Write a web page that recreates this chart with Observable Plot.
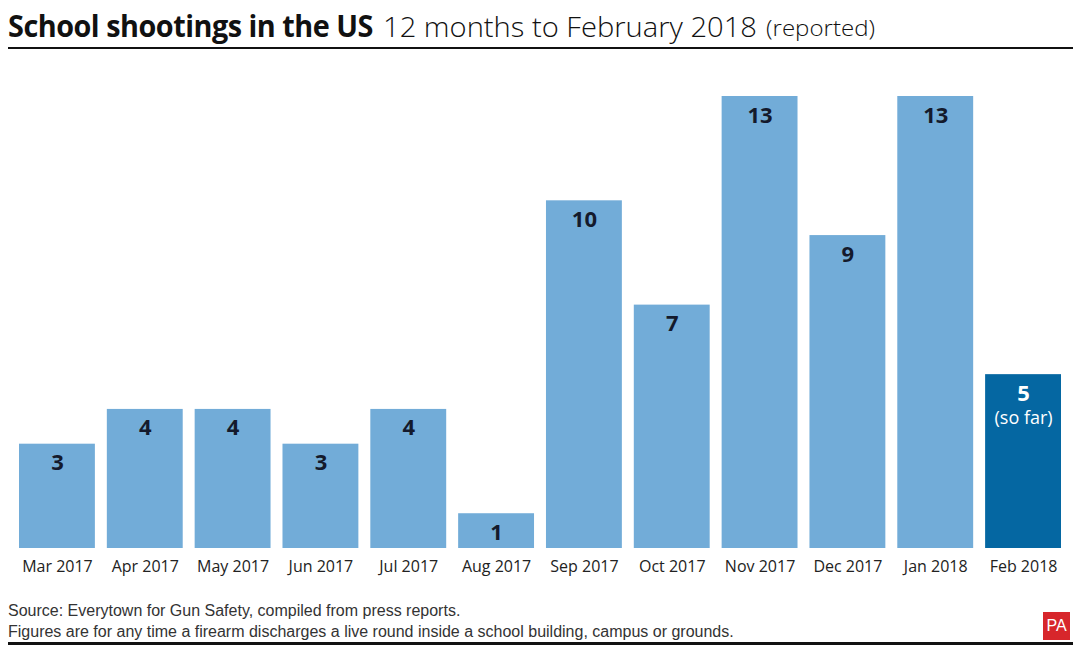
<!DOCTYPE html>
<html>
<head>
<meta charset="utf-8">
<script src="https://cdn.jsdelivr.net/npm/d3@7"></script>
<script src="https://cdn.jsdelivr.net/npm/@observablehq/plot@0.6"></script>
<style>
  html, body { margin: 0; padding: 0; background: #fff; }
  #wrap { position: relative; width: 1080px; height: 648px; overflow: hidden; font-family: "Open Sans", sans-serif; }
  .t { position: absolute; top: 4px; white-space: nowrap; color: #111; line-height: 44px; transform-origin: 0 50%; }
  #tb { left: 8px; font-family: "Open Sans", sans-serif; font-weight: bold; font-size: 30px; letter-spacing: -0.5px; }
  #tm { left: 383px; font-family: "Open Sans", sans-serif; font-weight: 300; font-size: 28px; }
  #ts { left: 766px; top: 5px; font-family: "Open Sans", sans-serif; font-weight: 300; font-size: 22px; }
  #rule1 { position: absolute; left: 8px; width: 1065px; top: 47px; height: 2px; background: #111; }
  #chart { position: absolute; left: 0; top: 50px; }
  #foot { position: absolute; left: 8px; top: 600px; font-family: "Liberation Sans Narrow", sans-serif; font-size: 16px; line-height: 21px; color: #333; }
  #rule2 { position: absolute; left: 8px; width: 1065px; top: 642px; height: 3px; background: #111; }
  #pa { position: absolute; left: 1043px; top: 612px; width: 27px; height: 28px; background: #d7262b; color: #fff; font-family: "Liberation Sans Narrow", sans-serif; font-size: 16px; text-align: center; line-height: 28px; }
</style>
</head>
<body>
<div id="wrap">
  <div id="tb" class="t">School shootings in the US</div>
  <div id="tm" class="t">12 months to February 2018</div>
  <div id="ts" class="t">(reported)</div>
  <div id="rule1"></div>
  <div id="chart"></div>
  <div id="foot">Source: Everytown for Gun Safety, compiled from press reports.<br>Figures are for any time a firearm discharges a live round inside a school building, campus or grounds.</div>
  <div id="pa">PA</div>
  <div id="rule2"></div>
</div>
<script>
const months = ["Mar 2017","Apr 2017","May 2017","Jun 2017","Jul 2017","Aug 2017","Sep 2017","Oct 2017","Nov 2017","Dec 2017","Jan 2018","Feb 2018"];
const counts = [3, 4, 4, 3, 4, 1, 10, 7, 13, 9, 13, 5];
const status = ["full","full","full","full","full","full","full","full","full","full","full","partial"];
const notes = ["","","","","","","","","","","","(so far)"];

const data = months.map((m, i) => ({month: m, count: counts[i], status: status[i], note: notes[i]}));

const chart = Plot.plot({
  width: 1080,
  height: 540,
  marginLeft: 19,
  marginRight: 19,
  marginTop: 46,
  marginBottom: 42,
  style: {fontFamily: "Open Sans, sans-serif", background: "transparent"},
  x: {domain: months, paddingInner: 0.136, paddingOuter: 0, round: false, label: null},
  y: {domain: [0, 13], axis: null},
  color: {domain: ["full", "partial"], range: ["#72acd8", "#0567a2"]},
  marks: [
    Plot.barY(data, {x: "month", y: "count", fill: "status"}),
    Plot.text(data, {x: "month", y: "count", text: d => String(d.count), dy: 19,
      fill: d => d.status === "partial" ? "#fff" : "#141a2c", fontSize: 22, fontWeight: "bold"}),
    Plot.text(data.filter(d => d.note), {x: "month", y: "count", text: "note", dy: 44, fill: "#fff", fontSize: 18}),
    Plot.axisX({tickSize: 0, tickPadding: 12, fontSize: 16, fill: "#222", label: null})
  ]
});
document.getElementById("chart").appendChild(chart);

// squeeze title pieces horizontally to the reference widths
function fitX(id, target) {
  const el = document.getElementById(id);
  const w = el.getBoundingClientRect().width;
  el.style.transform = "scaleX(" + (target / w) + ")";
}
fitX("tb", 365);
fitX("tm", 374);
fitX("ts", 109);
</script>
</body>
</html>
